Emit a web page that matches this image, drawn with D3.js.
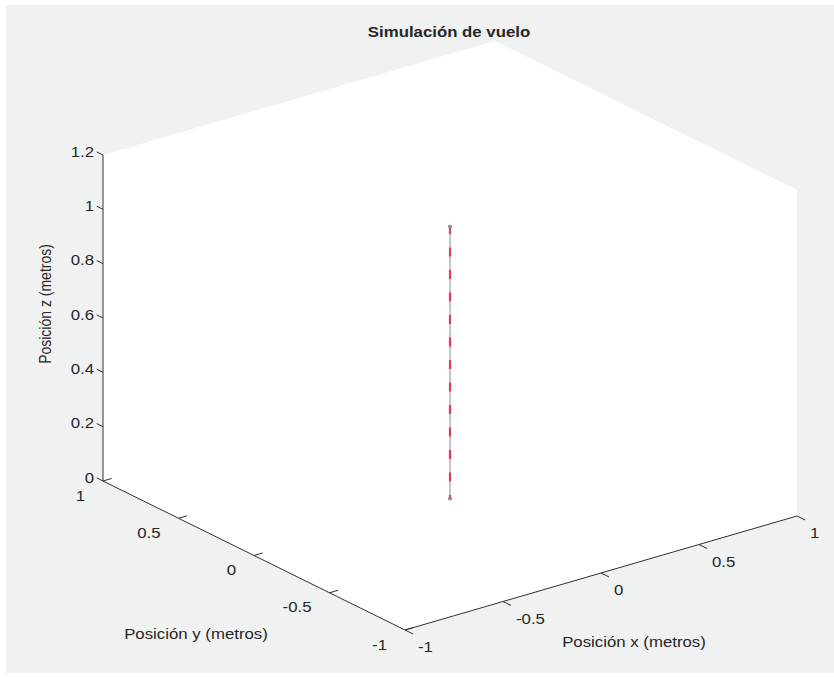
<!DOCTYPE html>
<html>
<head>
<meta charset="utf-8">
<script src="https://cdn.jsdelivr.net/npm/d3@7"></script>
<style>
  html, body { margin: 0; padding: 0; background: #ffffff; }
  svg { display: block; }
  text { font-family: "Liberation Sans", Arial, Helvetica, sans-serif; fill: #262626; }
</style>
</head>
<body>
<svg id="chart" width="834" height="677"></svg>
<script>
// ---------------- data ----------------
const titleText = "Simulación de vuelo";
const xLabel = "Posición x (metros)";
const yLabel = "Posición y (metros)";
const zLabel = "Posición z (metros)";

const xDomain = [-1, 1];
const yDomain = [-1, 1];
const zDomain = [0, 1.2];

const xTicks = [-1, -0.5, 0, 0.5, 1];
const xTickLabels = ["-1", "-0.5", "0", "0.5", "1"];
const yTicks = [-1, -0.5, 0, 0.5, 1];
const yTickLabels = ["-1", "-0.5", "0", "0.5", "1"];
const zTicks = [0, 0.2, 0.4, 0.6, 0.8, 1, 1.2];
const zTickLabels = ["0", "0.2", "0.4", "0.6", "0.8", "1", "1.2"];

// flight trajectory (reference and simulated)
const refX = [0, 0, 0, 0, 0, 0, 0, 0, 0, 0, 0];
const refY = [0, 0, 0, 0, 0, 0, 0, 0, 0, 0, 0];
const refZ = [0, 0.1, 0.2, 0.3, 0.4, 0.5, 0.6, 0.7, 0.8, 0.9, 1.0];
const simX = [0, 0, 0, 0, 0, 0, 0, 0, 0, 0, 0];
const simY = [0, 0, 0, 0, 0, 0, 0, 0, 0, 0, 0];
const simZ = [0, 0.1, 0.2, 0.3, 0.4, 0.5, 0.6, 0.7, 0.8, 0.9, 1.0];

// ---------------- projection (orthographic 3-D view) ----------------
const origin = [405, 630];          // screen point of (x=-1, y=-1, z=0)
const xVec = [392, -114];           // screen displacement for x: -1 -> 1
const yVec = [-302, -149];          // screen displacement for y: -1 -> 1
const zVec = [0, -326];             // screen displacement for z: 0 -> 1.2

const xS = d3.scaleLinear().domain(xDomain).range([0, 1]);
const yS = d3.scaleLinear().domain(yDomain).range([0, 1]);
const zS = d3.scaleLinear().domain(zDomain).range([0, 1]);

function proj(x, y, z) {
  const a = xS(x), b = yS(y), c = zS(z);
  return [
    origin[0] + a * xVec[0] + b * yVec[0] + c * zVec[0],
    origin[1] + a * xVec[1] + b * yVec[1] + c * zVec[1]
  ];
}
function unit(v) { const l = Math.hypot(v[0], v[1]); return [v[0] / l, v[1] / l]; }

const svg = d3.select("#chart");
const SX = 1.2; // horizontal text stretch of the reference

// figure background
svg.append("rect").attr("x", 6).attr("y", 5).attr("width", 828).attr("height", 668)
  .attr("fill", "#f0f2f2");

// back panes (white)
const hex = [
  proj(-1, 1, 0), proj(-1, 1, 1.2), proj(1, 1, 1.2),
  proj(1, -1, 1.2), proj(1, -1, 0), proj(-1, -1, 0)
];
svg.append("path")
  .attr("d", d3.line()(hex) + "Z")
  .attr("fill", "#ffffff");

const axisColor = "#303030";
const g = svg.append("g");

// z axis (at x=-1, y=1)
g.append("path").attr("d", d3.line()([proj(-1, 1, zDomain[0]), proj(-1, 1, zDomain[1])]))
  .attr("stroke", axisColor).attr("stroke-width", 1).attr("fill", "none");
const zTickDir = unit(yVec);
zTicks.forEach((t, i) => {
  const p = proj(-1, 1, t);
  g.append("line").attr("x1", p[0]).attr("y1", p[1])
    .attr("x2", p[0] + zTickDir[0] * 7).attr("y2", p[1] + zTickDir[1] * 7)
    .attr("stroke", axisColor).attr("stroke-width", 1);
  g.append("text")
    .attr("transform", `translate(${p[0] - 9},${p[1] - 2}) scale(${SX},1)`)
    .attr("text-anchor", "end").attr("dominant-baseline", "middle")
    .attr("font-size", 14).text(zTickLabels[i]);
});

// y axis (at x=-1, z=0)
g.append("path").attr("d", d3.line()([proj(-1, yDomain[1], 0), proj(-1, yDomain[0], 0)]))
  .attr("stroke", axisColor).attr("stroke-width", 1).attr("fill", "none");
const yTickDir = unit(xVec);
yTicks.forEach((t, i) => {
  const p = proj(-1, t, 0);
  g.append("line").attr("x1", p[0]).attr("y1", p[1])
    .attr("x2", p[0] + yTickDir[0] * 9).attr("y2", p[1] + yTickDir[1] * 9)
    .attr("stroke", axisColor).attr("stroke-width", 1);
  g.append("text")
    .attr("transform", `translate(${p[0] - 18},${p[1] + 16}) scale(${SX},1)`)
    .attr("text-anchor", "end").attr("dominant-baseline", "middle")
    .attr("font-size", 14).text(yTickLabels[i]);
});

// x axis (at y=-1, z=0)
g.append("path").attr("d", d3.line()([proj(xDomain[0], -1, 0), proj(xDomain[1], -1, 0)]))
  .attr("stroke", axisColor).attr("stroke-width", 1).attr("fill", "none");
const xTickDir = unit([-yVec[0], -yVec[1]]);
xTicks.forEach((t, i) => {
  const p = proj(t, -1, 0);
  g.append("line").attr("x1", p[0]).attr("y1", p[1])
    .attr("x2", p[0] + xTickDir[0] * 9).attr("y2", p[1] + xTickDir[1] * 9)
    .attr("stroke", axisColor).attr("stroke-width", 1);
  g.append("text")
    .attr("transform", `translate(${p[0] + 13},${p[1] + 18.5}) scale(${SX},1)`)
    .attr("text-anchor", "start").attr("dominant-baseline", "middle")
    .attr("font-size", 14).text(xTickLabels[i]);
});

// axis labels
svg.append("text")
  .attr("transform", `translate(634,643) scale(${SX},1)`)
  .attr("text-anchor", "middle").attr("dominant-baseline", "middle")
  .attr("font-size", 14).text(xLabel);
svg.append("text")
  .attr("transform", `translate(196,635) scale(${SX},1)`)
  .attr("text-anchor", "middle").attr("dominant-baseline", "middle")
  .attr("font-size", 14).text(yLabel);
svg.append("text")
  .attr("transform", `translate(47,304) scale(${SX},1) rotate(-90)`)
  .attr("text-anchor", "middle").attr("dominant-baseline", "middle")
  .attr("font-size", 14).text(zLabel);

// title
svg.append("text")
  .attr("transform", `translate(449,33) scale(${SX},1)`)
  .attr("text-anchor", "middle").attr("dominant-baseline", "middle")
  .attr("font-size", 14).attr("font-weight", "bold").attr("fill", "#000")
  .text(titleText);

// trajectories
const refPts = refZ.map((z, i) => proj(refX[i], refY[i], z));
const simPts = simZ.map((z, i) => proj(simX[i], simY[i], z));

svg.append("path").attr("d", d3.line()(refPts))
  .attr("stroke", "#8a8a96").attr("stroke-width", 1).attr("fill", "none");
svg.append("path").attr("d", d3.line()(simPts))
  .attr("stroke", "#e33a58").attr("stroke-width", 2.2).attr("fill", "none")
  .attr("stroke-dasharray", "9,13.5").attr("stroke-dashoffset", -17);
svg.selectAll("circle.end")
  .data([refPts[0], refPts[refPts.length - 1]])
  .enter().append("circle").attr("class", "end")
  .attr("cx", d => d[0]).attr("cy", d => d[1]).attr("r", 2)
  .attr("fill", "#8a8a8a");
</script>
</body>
</html>
